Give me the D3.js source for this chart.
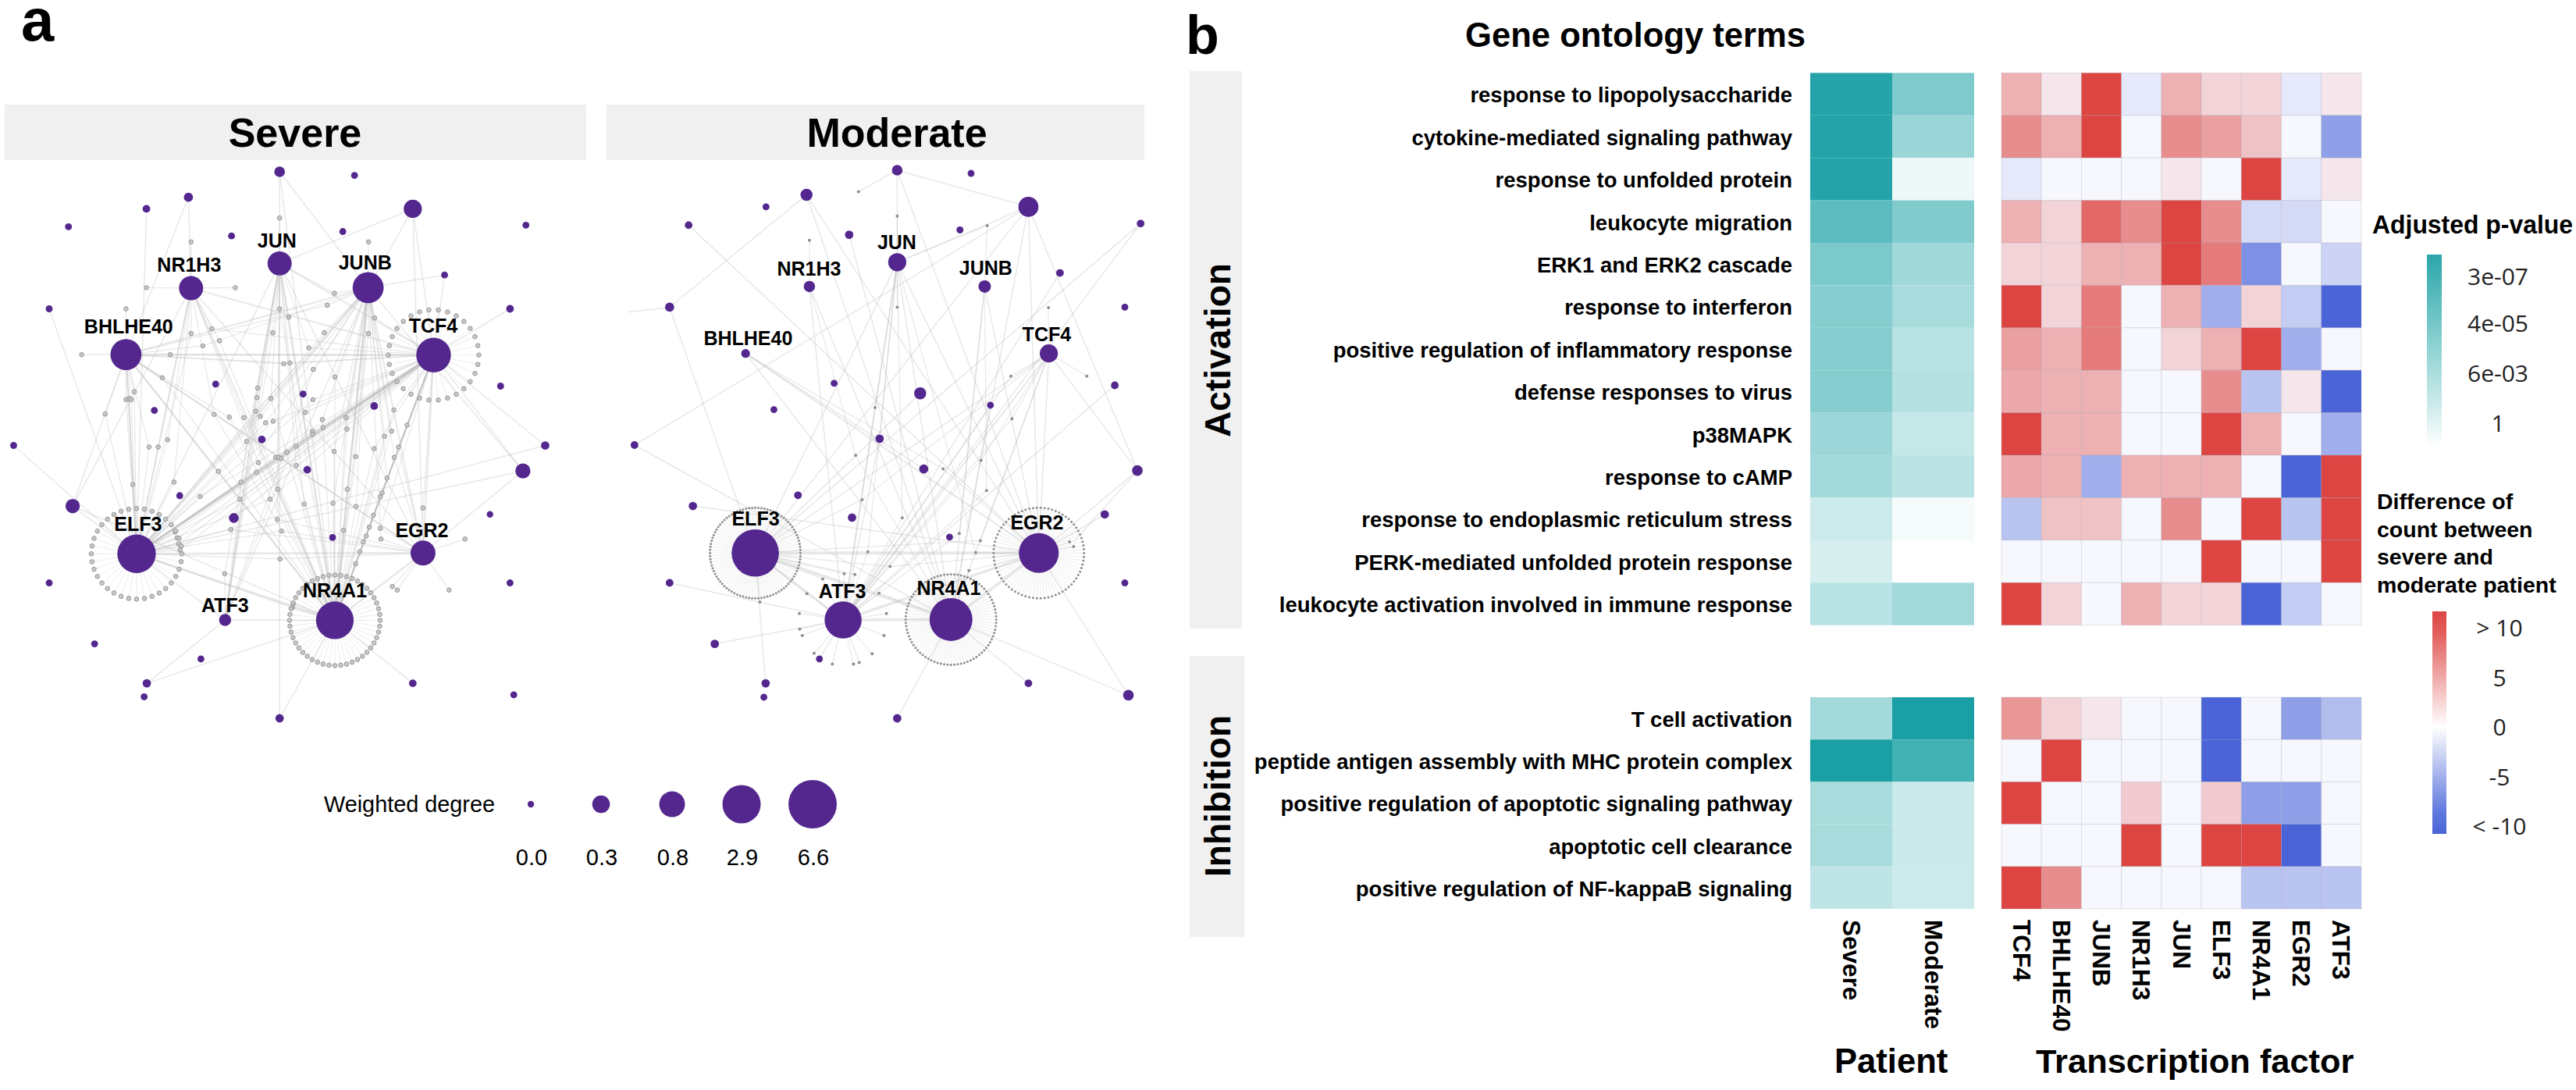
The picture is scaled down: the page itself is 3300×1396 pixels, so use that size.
<!DOCTYPE html>
<html><head><meta charset="utf-8">
<script src="https://cdn.jsdelivr.net/npm/d3@7/dist/d3.min.js"></script>
<style>
html,body{margin:0;padding:0;background:#fff}
svg{display:block}
text{font-family:"Liberation Sans",Arial,sans-serif;fill:#000}
.b{font-weight:700}
.tick line,.domain{display:none}
</style></head><body>
<svg id="c" width="3300" height="1396"></svg>
<script>
// ---------- DATA ----------
const degreeTicks = [0.0, 0.3, 0.8, 2.9, 6.6];

// hubs: key, name, layout x, layout y, weighted degree, label x, label y
const severeHubs = [
 ["T","TCF4",1146,656,2.3,1145,582],["B","BHLHE40",333,655,1.69,340,585],["U","JUNB",973,487,1.69,965,423],
 ["N","NR1H3",505,488,0.70,500,429],["J","JUN",739,426,0.70,732,368],["E","ELF3",361,1155,3.0,365,1080],
 ["R","NR4A1",885,1322,2.8,885,1247],["G","EGR2",1118,1153,0.75,1115,1095],["A","ATF3",595,1321,0.15,595,1283]];
const moderateHubs = [
 ["T","TCF4",1271,652,0.33,1265,604],["B","BHLHE40",425,652,0.06,432,613],["U","JUNB",1092,484,0.16,1095,437],
 ["N","NR1H3",603,484,0.13,602,439],["J","JUN",848,423,0.33,847,372],["E","ELF3",452,1153,6.2,453,1067],
 ["R","NR4A1",998,1320,4.6,992,1240],["G","EGR2",1243,1153,3.5,1238,1077],["A","ATF3",697,1321,2.7,695,1248]];

// peripheral targets: x, y, weighted degree, connected hubs
const severeTargets = [
 [739,196,.11,"JUR"],[937,205,.01,""],[1091,289,.33,"JUTG"],[498,260,.07,"BN"],[387,289,.03,"E"],[181,334,.01,""],
 [612,357,.01,""],[906,346,.01,""],[1390,330,.01,""],[1175,455,.01,"TU"],[130,540,.01,"E"],[1348,540,.03,"T"],
 [1323,734,.01,""],[570,729,.01,""],[801,754,.01,""],[989,784,.03,""],[408,795,.01,""],[692,868,.03,""],
 [36,883,.01,"E"],[1441,883,.05,"TE"],[812,944,.03,""],[1382,947,.23,"TUEG"],[192,1035,.21,"BNER"],[475,1009,.01,""],
 [618,1065,.09,"T"],[1295,1056,0,""],[879,1114,.01,""],[130,1228,.01,""],[1348,1228,.01,""],[250,1381,.01,""],
 [531,1419,.01,""],[388,1480,.05,"RA"],[381,1514,.01,""],[1091,1480,.03,"R"],[1358,1509,.01,""],[739,1568,.05,"RJ"]];
const moderateTargets = [
 [848,192,.11,"JG"],[1054,200,.01,""],[1214,284,.45,"JREG"],[595,254,.15,"RG"],[482,284,.01,""],[266,330,.03,"G"],
 [714,354,.05,"R"],[1023,342,.01,""],[1527,326,.03,"EA"],[1302,450,.03,"A"],[213,536,.07,"E"],[1483,536,.01,""],
 [1455,732,.03,"A"],[672,727,.01,""],[912,752,.15,"E"],[1108,782,.01,"AR"],[504,793,.01,""],[799,866,.05,"AJ"],
 [115,882,.03,"R"],[1518,946,.11,"TG"],[922,942,.07,"B"],[571,1008,.03,""],[278,1035,.05,"G"],[722,1064,.05,""],
 [1427,1056,.05,"G"],[994,1113,.01,""],[213,1228,.03,"A"],[1483,1228,.01,""],[339,1381,.05,"A"],[631,1419,.01,"A"],
 [481,1480,.05,"E"],[476,1515,.01,""],[1214,1480,.03,"R"],[1493,1510,.11,"RG"],[848,1568,.05,"R"]];

// small gene nodes: x, y, connected hubs
const severeGenes = [
 [739,312,"J"],[505,372,"N"],[974,372,"U"],[387,487,"N"],[622,487,"N"],[333,540,"B"],[739,540,"JR"],[884,501,"UJ"],[865,531,"UB"],[763,561,"JR"],
 [990,563,"UT"],[216,655,"B"],[450,655,"BT"],[505,602,"NE"],[560,590,"NT"],[580,620,"NR"],[536,633,"BU"],[721,600,"JA"],[857,600,"UE"],[974,602,"UR"],
 [816,638,"JT"],[750,678,"BT"],[766,676,"BT"],[828,692,"UA"],[885,711,"UR"],[429,713,"BR"],[355,748,"BE"],[333,768,"BE"],[341,765,"BE"],[347,768,"BE"],
 [278,804,"BE"],[681,739,"JA"],[679,763,"JA"],[716,765,"JR"],[827,768,"TE"],[676,797,"UE"],[688,810,"UE"],[645,813,"NR"],[606,812,"BR"],[566,805,"NR"],
 [702,826,"UE"],[722,822,"TE"],[807,800,"TA"],[852,818,"UR"],[914,813,"UR"],[1041,794,"TR"],[1076,832,"TR"],[1035,847,"UR"],[1016,860,"UR"],[826,848,"TE"],
 [826,855,"TE"],[854,838,"TE"],[917,842,"UR"],[652,873,"JA"],[443,869,"NE"],[394,887,"BE"],[418,887,"NE"],[782,885,"TE"],[758,900,"TE"],[883,898,"UR"],
 [940,911,"UR"],[989,891,"TR"],[1053,887,"TG"],[1042,913,"UG"],[729,913,"TE"],[736,913,"BG"],[743,916,"TE"],[683,926,"NR"],[783,933,"JR"],[678,950,"TE"],
 [577,948,"BR"],[1023,965,"UR"],[460,975,"NE"],[637,975,"UE"],[351,981,"BE"],[734,993,"JR"],[918,993,"UR"],[1010,1002,"TR"],[1005,1012,"TR"],[529,1011,"TE"],
 [714,1018,"TE"],[634,1018,"TE"],[804,1030,"JR"],[880,1028,"UR"],[941,1036,"UR"],[987,1058,"TR"],[1118,1040,"TG"],[733,1069,"JG"],[610,1094,"EG"],[744,1098,"EG"],
 [908,1096,"UR"],[976,1088,"TR"],[1005,1091,"GT"],[1007,1118,"UG"],[1229,1118,"G"],[968,1110,"TR"],[960,1125,"TR"],[951,1150,"TR"],[940,1180,"TR"],[740,1168,"EG"],
 [594,1205,"AJ"],[1037,1237,"G"],[1050,1246,"G"],[1187,1246,"G"],[463,1100,"ET"],[468,1115,"ET"],[472,1130,"ET"],[476,1145,"ET"],[775,1280,"R"],[773,1290,"RE"]];
const moderateGenes = [
 [740,246,""],[848,307,"J"],[1099,331,"JU"],[603,368,"N"],[848,536,"J"],[1270,537,"T"],[1165,709,"TA"],[1377,709,"T"],[786,788,"JA"],[1168,816,"TA"],
 [732,908,"NR"],[1082,920,"TA"],[976,942,"BG"],[1097,996,"UA"],[750,1019,"ET"],[862,1065,"JA"],[1021,1104,"UA"],[1080,1122,"TE"],[1067,1152,"JG"],[766,1150,"JA"],
 [828,1187,"EG"],[1048,1197,"RG"],[700,1205,"AE"],[730,1207,"AE"],[640,1218,"EA"],[596,1255,"EA"],[797,1254,"AR"],[575,1305,"A"],[818,1305,"A"],[576,1344,"A"],
 [583,1360,"A"],[811,1360,"A"],[616,1405,"A"],[667,1432,"A"],[726,1432,"A"],[742,1428,"A"],[778,1406,"A"],[1329,1125,"G"],[1340,1137,"G"],[465,1276,"E"]];

// genes exclusive to a hub, shown as a ring around it: hub, gene count
const severeRings = [["T",30],["E",36],["R",48]];
const moderateRings = [["E",92],["G",74],["R",84]];

// shared gene counts between hub pairs
const severeShared = [["T","E",6],["T","B",3],["B","U",2],["B","R",3],["B","G",2],["U","E",3],["U","R",4],["U","A",1],["U","G",2],["N","T",2],["N","R",2],["N","E",2],
 ["J","R",3],["J","E",1],["J","A",2],["J","T",2],["E","R",4],["E","G",3],["R","G",3],["T","R",3],["T","G",2],["E","A",1],["R","A",1],["B","E",2],["N","G",1],["J","G",1]];
const moderateShared = [["E","G",6],["E","R",6],["E","A",4],["A","G",5],["A","R",5],["R","G",5],["J","A",2],["J","R",1],["J","G",1],["J","E",1],["U","R",1],["U","G",1],
 ["T","A",2],["T","E",1],["T","R",1],["T","G",1],["N","R",1],["N","A",1],["B","G",2],["B","R",1]];

// other links between non-hub nodes
const moderateLinks = [[848,192,1214,284],[595,254,213,536],[115,882,1214,284],[740,246,848,192],[213,536,100,548],[1214,284,1518,946],[1518,946,1340,1125]];

const strips = ["Severe","Moderate"];
const patients = ["Severe","Moderate"];
const tfs = ["TCF4","BHLHE40","JUNB","NR1H3","JUN","ELF3","NR4A1","EGR2","ATF3"];
const activationTerms = ["response to lipopolysaccharide","cytokine-mediated signaling pathway","response to unfolded protein","leukocyte migration","ERK1 and ERK2 cascade","response to interferon","positive regulation of inflammatory response","defense responses to virus","p38MAPK","response to cAMP","response to endoplasmic reticulum stress","PERK-mediated unfolded protein response","leukocyte activation involved in immune response"];
const inhibitionTerms = ["T cell activation","peptide antigen assembly with MHC protein complex","positive regulation of apoptotic signaling pathway","apoptotic cell clearance","positive regulation of NF-kappaB signaling"];
// -log10 adjusted p, [severe, moderate]
const activationP = [[6.5,3.8],[6.5,3.0],[6.5,.5],[4.8,3.7],[3.9,2.8],[3.6,2.6],[3.6,2.1],[3.6,2.2],[2.9,1.7],[2.7,2.0],[1.5,.3],[1.2,0],[2.1,2.7]];
const inhibitionP = [[2.7,6.8],[6.8,5.6],[2.6,1.6],[2.6,1.6],[1.9,1.5]];
// count difference severe - moderate
const activationDiff = [
 [4,1,10,-1,4,2,2,-1,1],[6,4,10,0,6,5,3,0,-6],[-1,0,0,0,1,0,10,-1,1],[4,2,8,6,10,6,-2,-2,0],[2,2,4,4,10,7,-7,0,-2.5],
 [10,2,7,0,4,-5,2,-3,-10],[5,4,7,0,2,4,10,-5,0],[4.5,4,4,0,0,6,-3.5,1,-10],[10,4,4,0,0,10,4,0,-5],[4.5,4,-5,4,4,4,0,-10,10],
 [-3.5,3,3,0,6,0,10,-3.5,10],[0,0,0,0,0,10,0,0,10],[10,2,0,4,2,2,-10,-3,0]];
const inhibitionDiff = [[5.5,2,1,0,0,-10,0,-6,-4],[0,10,0,0,0,-10,0,0,0],[10,0,0,2.5,0,2.5,-6,-6,0],[0,0,0,10,0,10,10,-10,0],[10,6,0,0,0,0,-3.5,-3.5,-3.5]];
const pTicks = [["3e-07",6.5],["4e-05",4.4],["6e-03",2.2],["1",0]];
const diffTicks = [["> 10",10],["5",5],["0",0],["-5",-5],["< -10",-10]];

// ---------- DRAW ----------
const svg = d3.select("#c");
svg.append("rect").attr("width",3300).attr("height",1396).attr("fill","#fff");
const PURPLE = "#54278f";
const rScale = d3.scaleLinear().domain(degreeTicks).range([4.2,11.3,16.5,24.5,31]);
const fit = (s,w)=> s.attr("textLength",w).attr("lengthAdjust","spacingAndGlyphs");

function panel(o){
  const x = d3.scaleLinear().domain([0,1568]).range(o.xr);
  const y = d3.scaleLinear().domain([0,1568]).range([120,920]);
  const g = svg.append("g");
  g.append("rect").attr("x",o.strip[0]).attr("y",134).attr("width",o.strip[1]-o.strip[0]).attr("height",71).attr("fill","#f0f0f0");
  g.append("text").attr("class","b").attr("x",(o.labelX)).attr("y",188).attr("text-anchor","middle").attr("font-size",52).text(o.title);
  const hub = new Map(o.hubs.map(h=>[h[0],h]));
  const edges = g.append("g").attr("fill","none").attr("stroke-linecap","round");
  const line = (a,b,c,d,w)=> edges.append("line").attr("x1",x(a)).attr("y1",y(b)).attr("x2",x(c)).attr("y2",y(d)).attr("stroke","rgba(190,190,190,.36)").attr("stroke-width",w);
  o.shared.forEach(([a,b,n])=>{const A=hub.get(a),B=hub.get(b);line(A[2],A[3],B[2],B[3],1+n*.5);});
  o.targets.forEach(t=>[...t[3]].forEach(k=>{const h=hub.get(k);line(t[0],t[1],h[2],h[3],1.5);}));
  o.genes.forEach(t=>[...t[2]].forEach(k=>{const h=hub.get(k);line(t[0],t[1],h[2],h[3],1.2);}));
  (o.links||[]).forEach(l=>line(l[0],l[1],l[2],l[3],1.5));
  // gene rings, laid out evenly around the hub
  const ringPts=[];
  o.rings.forEach(([k,n])=>{
    const h=hub.get(k),cx=x(h[2]),cy=y(h[3]);
    d3.range(n).forEach(i=>{const a=i/n*2*Math.PI,px=cx+58*Math.cos(a),py=cy+58*Math.sin(a);
      ringPts.push([px,py]);
      edges.append("line").attr("x1",cx).attr("y1",cy).attr("x2",px).attr("y2",py).attr("stroke","rgba(195,195,195,.32)").attr("stroke-width",1);});
  });
  const gr=o.geneStyle;
  const geneG=g.append("g").attr("fill",gr.fill).attr("stroke",gr.stroke).attr("stroke-width",gr.sw);
  geneG.selectAll(".gn").data(o.genes).join("circle").attr("cx",d=>x(d[0])).attr("cy",d=>y(d[1])).attr("r",gr.r);
  geneG.selectAll(".rp").data(ringPts).join("circle").attr("cx",d=>d[0]).attr("cy",d=>d[1]).attr("r",gr.ringR);
  const nodes=g.append("g").attr("fill",PURPLE);
  nodes.selectAll(".t").data(o.targets).join("circle").attr("cx",d=>x(d[0])).attr("cy",d=>y(d[1])).attr("r",d=>rScale(d[2]));
  nodes.selectAll(".h").data(o.hubs).join("circle").attr("cx",d=>x(d[2])).attr("cy",d=>y(d[3])).attr("r",d=>rScale(d[4]));
  g.append("g").selectAll("text").data(o.hubs).join("text").attr("class","b")
   .attr("x",d=>x(d[5])).attr("y",d=>y(d[6])+9).attr("text-anchor","middle").attr("font-size",25).text(d=>d[1]);
}
panel({title:strips[0],xr:[0,760],strip:[6,751],labelX:378,hubs:severeHubs,targets:severeTargets,genes:severeGenes,rings:severeRings,shared:severeShared,
  geneStyle:{fill:"#c8c8c8",stroke:"#959595",sw:1,r:2.8,ringR:2.8}});
panel({title:strips[1],xr:[760,1480],strip:[777,1466],labelX:1149,hubs:moderateHubs,targets:moderateTargets,genes:moderateGenes,rings:moderateRings,shared:moderateShared,links:moderateLinks,
  geneStyle:{fill:"#8f8f8f",stroke:"none",sw:0,r:2,ringR:1.5}});

// weighted degree legend
const legXv = [680,770,861,950,1041];
svg.append("text").attr("x",415).attr("y",1040).attr("font-size",30).text("Weighted degree").call(fit,219);
svg.append("g").attr("fill",PURPLE).selectAll("circle").data(degreeTicks).join("circle").attr("cx",(d,i)=>legXv[i]).attr("cy",1030).attr("r",d=>rScale(d));
svg.append("g").selectAll("text").data(degreeTicks).join("text").attr("x",(d,i)=>legXv[i]+1).attr("y",1108).attr("font-size",29).attr("text-anchor","middle").text(d=>d.toFixed(1));

// panel letters
svg.append("text").attr("class","b").attr("x",27).attr("y",52).attr("font-size",76).text("a");
svg.append("text").attr("class","b").attr("x",1519).attr("y",69).attr("font-size",70).text("b");

// heatmaps
const pColor = d3.scaleLinear().domain([0,6.8]).range(["#ffffff","#1aa0a4"]);
const dColor = d3.scaleLinear().domain([-10,0,10]).range(["#4a64d8","#f7f8fd","#dd4543"]);
const px = d3.scaleBand().domain(patients).range([2319,2529]);
const tx = d3.scaleBand().domain(tfs).range([2564,3025]);
function heat(terms,P,D,y0,y1){
  const y = d3.scaleBand().domain(terms).range([y0,y1]);
  const g = svg.append("g");
  terms.forEach((t,i)=>{
    patients.forEach((p,j)=>g.append("rect").attr("x",px(p)).attr("y",y(t)).attr("width",px.bandwidth()).attr("height",y.bandwidth()).attr("fill",pColor(P[i][j])));
    tfs.forEach((f,j)=>g.append("rect").attr("x",tx(f)).attr("y",y(t)).attr("width",tx.bandwidth()).attr("height",y.bandwidth()).attr("fill",dColor(D[i][j])).attr("stroke","rgba(150,150,170,.22)").attr("stroke-width",1));
  });
  const ax = svg.append("g").attr("transform","translate(2296,2)").call(d3.axisLeft(y).tickSize(0).tickPadding(0));
  ax.selectAll("text").attr("class","b").attr("font-size",27.5).attr("font-family",'"Liberation Sans"').attr("fill","#000");
  ax.select(".domain").remove();
}
heat(activationTerms,activationP,activationDiff,93.4,800.7);
heat(inhibitionTerms,inhibitionP,inhibitionDiff,893,1164);

// group strips
svg.append("rect").attr("x",1524).attr("y",91).attr("width",67).attr("height",714).attr("fill","#f0f0f0");
svg.append("rect").attr("x",1524).attr("y",840).attr("width",70).attr("height",360).attr("fill","#f0f0f0");
const vtext=(t,cy,l)=>svg.append("text").attr("class","b").attr("transform",`translate(1576,${cy}) rotate(-90)`).attr("text-anchor","middle").attr("font-size",47).text(t).call(fit,l);
vtext("Activation",448.5,223); vtext("Inhibition",1019.5,207);

// column labels
const collabels=(scale,names)=>svg.append("g").selectAll("text").data(names).join("text").attr("class","b")
  .attr("transform",d=>`translate(${scale(d)+scale.bandwidth()/2-11},1178) rotate(90)`).attr("font-size",31.5).text(d=>d);
collabels(px,patients); collabels(tx,tfs);

svg.append("text").attr("class","b").attr("x",1877).attr("y",60).attr("font-size",43.6).text("Gene ontology terms");
svg.append("text").attr("class","b").attr("x",2350).attr("y",1374).attr("font-size",43.6).text("Patient");
svg.append("text").attr("class","b").attr("x",2608).attr("y",1374).attr("font-size",43.4).text("Transcription factor");

// p-value legend
const defs=svg.append("defs");
const lg1=defs.append("linearGradient").attr("id","gp").attr("x1",0).attr("x2",0).attr("y1",0).attr("y2",1);
lg1.selectAll("stop").data([[0,"#2ba6aa"],[.5,"#93d4d4"],[.8,"#d0ecec"],[1,"#ffffff"]]).join("stop").attr("offset",d=>d[0]).attr("stop-color",d=>d[1]);
const lg2=defs.append("linearGradient").attr("id","gd").attr("x1",0).attr("x2",0).attr("y1",0).attr("y2",1);
lg2.selectAll("stop").data([[0,"#dd4543"],[.1,"#e25f5d"],[.52,"#ffffff"],[.9,"#6079dd"],[1,"#4a64d8"]]).join("stop").attr("offset",d=>d[0]).attr("stop-color",d=>d[1]);
svg.append("text").attr("class","b").attr("x",3039).attr("y",299).attr("font-size",33).text("Adjusted p-value").call(fit,257);
svg.append("rect").attr("x",3109).attr("y",326).attr("width",19).attr("height",246).attr("fill","url(#gp)");
const py=d3.scaleLinear().domain([6.5,0]).range([353.6,542]);
svg.append("g").selectAll("text").data(pTicks).join("text").attr("x",3200).attr("y",d=>py(d[1])+11).attr("text-anchor","middle")
  .style("font-family",'"Open Sans"').attr("font-size",30).text(d=>d[0]).style("fill","#222");
["Difference of","count between","severe and","moderate patient"].forEach((t,i)=>{
  svg.append("text").attr("class","b").attr("x",3045).attr("y",652+i*35.6).attr("font-size",28.5).text(t);
});
svg.append("rect").attr("x",3116).attr("y",783).attr("width",18).attr("height",285).attr("fill","url(#gd)");
const dy=d3.scaleLinear().domain([10,-10]).range([804,1058]);
svg.append("g").selectAll("text").data(diffTicks).join("text").attr("x",3202).attr("y",d=>dy(d[1])+11).attr("text-anchor","middle")
  .style("font-family",'"Open Sans"').attr("font-size",30).text(d=>d[0]).style("fill","#222");
</script>
</body></html>
